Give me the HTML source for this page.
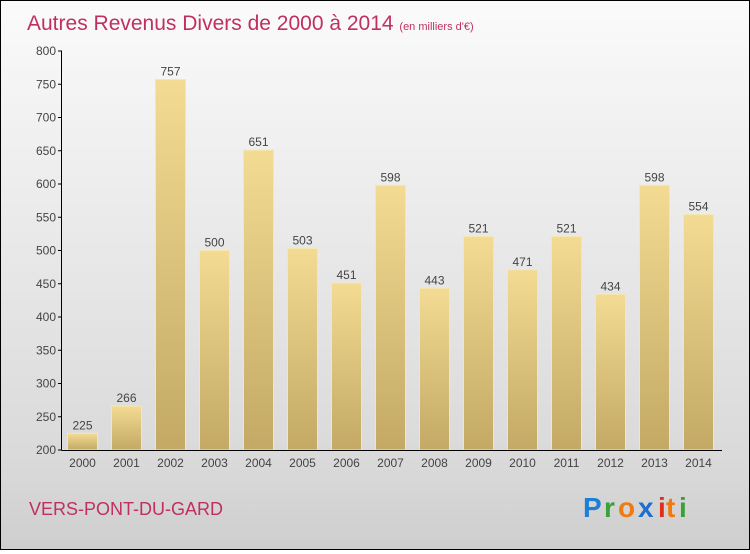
<!DOCTYPE html>
<html><head><meta charset="utf-8"><style>
body{margin:0;width:750px;height:550px;overflow:hidden;font-family:"Liberation Sans",sans-serif}
#wrap{position:absolute;left:0;top:0;width:748px;height:548px;border:1px solid #000;background:linear-gradient(#fbfbfb,#f2f2f2 20%,#d9d9d9 85%,#cecece)}
</style></head><body>
<div id="wrap">
<svg width="748" height="548" id="svg">
<defs><linearGradient id="bg" x1="0" y1="0" x2="0" y2="1"><stop offset="0" stop-color="#f3db93"/><stop offset="1" stop-color="#c3a964"/></linearGradient></defs>
<text x="26" y="29" font-size="21" fill="#c0305e">Autres Revenus Divers de 2000 à 2014 <tspan font-size="11">(en milliers d'€)</tspan></text>
<g id="plot"></g>
<text x="28" y="514" font-size="18" fill="#c0305e">VERS-PONT-DU-GARD</text>
<g font-size="28" font-weight="bold">
<text x="582" y="516" fill="#1a7fd6">P</text><text x="603" y="516" fill="#3aa13a">r</text><text x="617" y="516" fill="#f07a10">o</text><text x="637" y="516" fill="#1a6fd0">x</text><text x="657" y="516" fill="#e0301a">i</text><text x="665" y="516" fill="#f07a10">t</text><text x="678" y="516" fill="#3aa13a">i</text>
</g>
</svg></div>
<script>
const years=["2000","2001","2002","2003","2004","2005","2006","2007","2008","2009","2010","2011","2012","2013","2014"];
const values=[225,266,757,500,651,503,451,598,443,521,471,521,434,598,554];
const yTicks=[200,250,300,350,400,450,500,550,600,650,700,750,800];
const NS="http://www.w3.org/2000/svg",g=document.getElementById('plot');
const y=v=>449-(v-200)*(399/600), x=i=>81.5+i*44;
function mk(t,a,txt){const e=document.createElementNS(NS,t);for(const k in a)e.setAttribute(k,a[k]);if(txt!=null)e.textContent=txt;g.appendChild(e);return e;}
values.forEach((v,i)=>{
 const r=mk('rect',{x:x(i)-15,y:y(v),width:30,height:449-y(v),fill:'url(#bg)',stroke:'#f6e6b0','stroke-width':1});
 
 
 const t=mk('text',{x:x(i),y:y(v)-4,'font-size':12,fill:'#444','text-anchor':'middle'},v);
 
 
 const l=mk('text',{x:x(i),y:466,'font-size':12,fill:'#444','text-anchor':'middle'},years[i]);
 
 
});
yTicks.forEach(v=>{
 mk('line',{x1:57,x2:61,y1:y(v),y2:y(v),stroke:'#000'});
 const t=mk('text',{x:55,y:y(v)+4,'font-size':12,fill:'#444','text-anchor':'end'},v);
 
 
});
const ya=mk('line',{x1:60.5,x2:60.5,y1:y(800),y2:449,stroke:'#000'});


const xa=mk('line',{x1:60.5,x2:721,y1:449.5,y2:449.5,stroke:'#000'});


</script>
</body></html>
